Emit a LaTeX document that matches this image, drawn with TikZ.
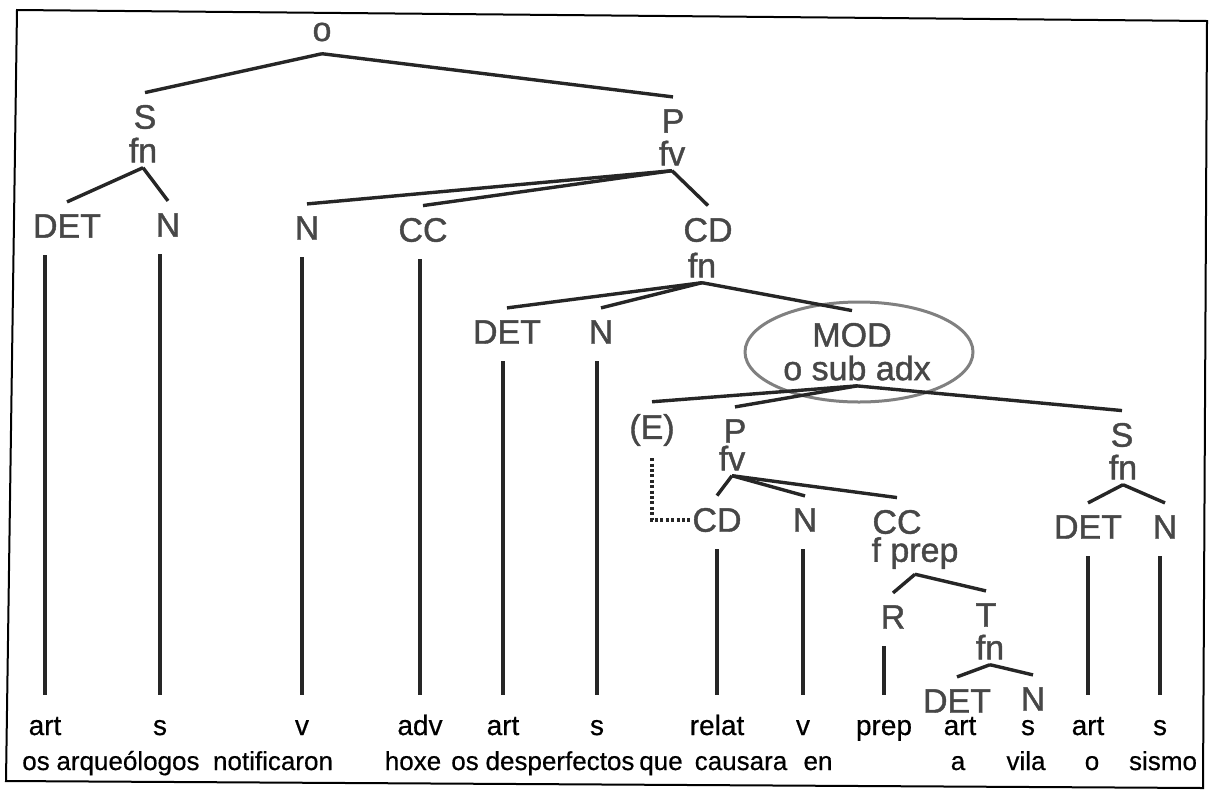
\documentclass[tikz,border=0pt]{standalone}
\usepackage{fontspec}
\setmainfont{Liberation Sans}
\newfontfamily\labelfont[FakeBold=1.2]{Liberation Sans}
\newfontfamily\wordfont[FakeBold=0.5]{Liberation Sans}
\usepackage{tikz}
\usetikzlibrary{calc}

\begin{document}
\begin{tikzpicture}[x=0.5pt,y=-0.5pt,
  cat/.style={font=\labelfont\fontsize{17}{17}\selectfont,text=black!72,inner xsep=0pt,inner ysep=6pt},
  fun/.style={font=\labelfont\fontsize{17}{17}\selectfont,text=black!72,inner xsep=0pt,inner ysep=2.5pt},
  tag/.style={font=\wordfont\fontsize{14}{14}\selectfont,anchor=base,inner sep=0pt,text height=10pt,text depth=3pt},
  word/.style={font=\wordfont\fontsize{13}{13}\selectfont,anchor=base,inner sep=0pt},
  branch/.style={line width=1.7pt,black!85},
  leaf/.style={line width=1.7pt,black!85,shorten <=10pt,shorten >=2.5pt},
  ring/.style={line width=1.5pt,black!50},
  trace/.style={line width=1.6pt,black!85,dash pattern=on 1.5pt off 1.2pt}]
\useasboundingbox (0,0) rectangle (1215,794);
% frame
\draw[line width=1pt] (17,10) -- (1207,21) -- (1203,788) -- (6,781) -- cycle;
% upper levels
\node[cat] (o) at (322,32) {o};
\node[cat] (Sa) at (145,117) {S};
\node[fun] (Safn) at (143,150) {fn};
\node[cat] (Pa) at (673,121) {P};
\node[fun] (Pafv) at (672,153) {fv};
\node[cat] (DETa) at (67,226) {DET};
\node[cat] (Na) at (168,225) {N};
\node[cat] (Nb) at (307,228) {N};
\node[cat] (CCa) at (423,230) {CC};
\node[cat] (CDa) at (708,230) {CD};
\node[fun] (CDafn) at (702,265) {fn};
\node[cat] (DETb) at (507,332) {DET};
\node[cat] (Nc) at (601,332) {N};
% subordinate clause
\draw[ring] (859,352) ellipse [x radius=57pt,y radius=25pt];
\node[cat] (MOD) at (852,335) {MOD};
\node[fun] (MODfn) at (857,368) {o sub adx};
\node[cat] (E) at (652,430) {(E)};
\node[cat] (Pb) at (735,431) {P};
\node[fun] (Pbfv) at (732,458) {fv};
\node[cat] (Sb) at (1122,435) {S};
\node[fun] (Sbfn) at (1123,467) {fn};
\node[cat] (CDb) at (717,520) {CD};
\node[cat] (Nd) at (805,520) {N};
\node[cat] (CCb) at (897,522) {CC};
\node[fun] (CCbfn) at (915,553) {f prep};
\node[cat] (DETc) at (1088,527) {DET};
\node[cat] (Ne) at (1165,527) {N};
\node[cat] (R) at (893,617) {R};
\node[cat] (T) at (986,615) {T};
\node[fun] (Tfn) at (990,647) {fn};
\node[cat] (DETd) at (957,701) {DET};
\node[cat] (Nf) at (1033,699) {N};
% word classes
\node[tag] (t1) at (45,735) {art};
\node[tag] (t2) at (160,735) {s};
\node[tag] (t3) at (302,735) {v};
\node[tag] (t4) at (420,735) {adv};
\node[tag] (t5) at (503,735) {art};
\node[tag] (t6) at (597,735) {s};
\node[tag] (t7) at (717,735) {relat};
\node[tag] (t8) at (803,735) {v};
\node[tag] (t9) at (884,735) {prep};
\node[tag] (t10) at (960,735) {art};
\node[tag] (t11) at (1028,735) {s};
\node[tag] (t12) at (1088,735) {art};
\node[tag] (t13) at (1160,735) {s};
% sentence
\node[word] (w1) at (36,770) {os};
\node[word] (w2) at (128,770) {arqueólogos};
\node[word] (w3) at (273,770) {notificaron};
\node[word] (w4) at (413,770) {hoxe};
\node[word] (w5) at (465,770) {os};
\node[word] (w6) at (560,770) {desperfectos};
\node[word] (w7) at (661,770) {que};
\node[word] (w8) at (741,770) {causara};
\node[word] (w9) at (818,770) {en};
\node[word] (w10) at (958,770) {a};
\node[word] (w11) at (1026,770) {vila};
\node[word] (w12) at (1092,770) {o};
\node[word] (w13) at (1163,770) {sismo};
% branches
\draw[branch] (o.south) -- (Sa.north);
\draw[branch] (o.south) -- (Pa.north);
\draw[branch] (Safn.south) -- (DETa.north);
\draw[branch] (Safn.south) -- (Na.north);
\draw[branch] (Pafv.south) -- (Nb.north);
\draw[branch] (Pafv.south) -- (CCa.north);
\draw[branch] (Pafv.south) -- (CDa.north);
\draw[branch] (CDafn.south) -- (DETb.north);
\draw[branch] (CDafn.south) -- (Nc.north);
\draw[branch] (CDafn.south) -- (MOD.north);
\draw[branch] (MODfn.south) -- (E.north);
\draw[branch] (MODfn.south) -- (Pb.north);
\draw[branch] (MODfn.south) -- (Sb.north);
\draw[branch] (Pbfv.south) -- (CDb.north);
\draw[branch] (Pbfv.south) -- (Nd.north);
\draw[branch] (Pbfv.south) -- (CCb.north);
\draw[branch] (Sbfn.south) -- (DETc.north);
\draw[branch] (Sbfn.south) -- (Ne.north);
\draw[branch] (CCbfn.south) -- (R.north);
\draw[branch] (CCbfn.south) -- (T.north);
\draw[branch] (Tfn.south) -- (DETd.north);
\draw[branch] (Tfn.south) -- (Nf.north);
% trace of the relative
\draw[trace] (E.south) |- (CDb.west);
% leaves
\draw[leaf] (t1.north) -- (t1.north |- DETa.south);
\draw[leaf] (t2.north) -- (t2.north |- Na.south);
\draw[leaf] (t3.north) -- (t3.north |- Nb.south);
\draw[leaf] (t4.north) -- (t4.north |- CCa.south);
\draw[leaf] (t5.north) -- (t5.north |- DETb.south);
\draw[leaf] (t6.north) -- (t6.north |- Nc.south);
\draw[leaf] (t7.north) -- (t7.north |- CDb.south);
\draw[leaf] (t8.north) -- (t8.north |- Nd.south);
\draw[leaf] (t9.north) -- (t9.north |- R.south);
\draw[leaf] (t12.north) -- (t12.north |- DETc.south);
\draw[leaf] (t13.north) -- (t13.north |- Ne.south);
\end{tikzpicture}
\end{document}
